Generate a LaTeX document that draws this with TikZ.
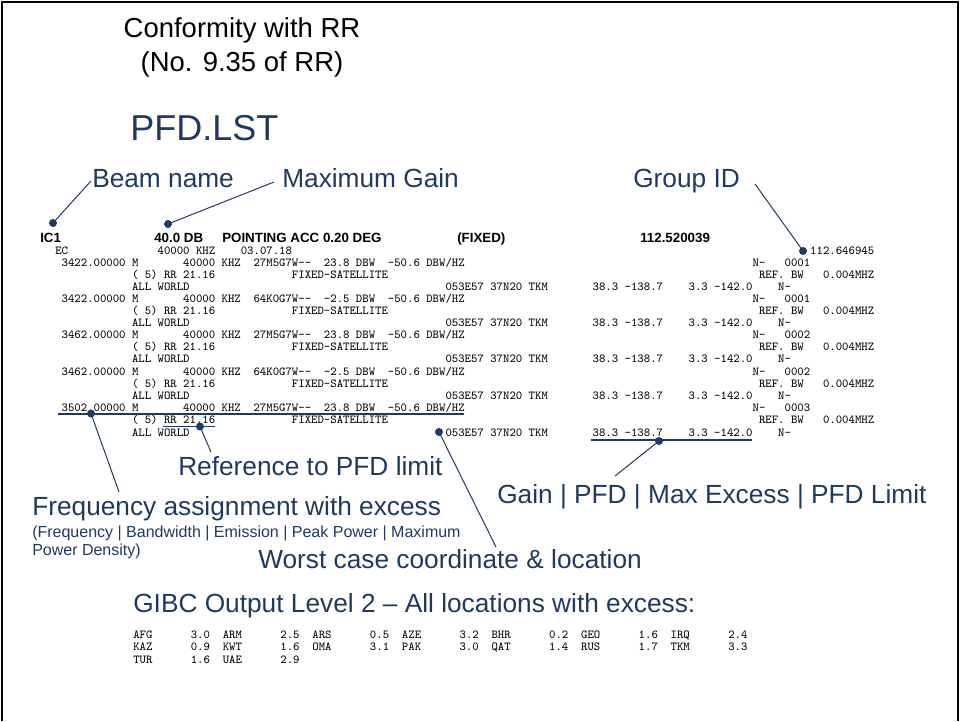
\documentclass[tikz,border=0pt]{standalone}
\usepackage{fontspec}
\setmainfont{Liberation Sans}
\usepackage{tikz}
\definecolor{slidenavy}{HTML}{1F3A5F}
\newcommand{\gap}[1]{\hspace*{#1\dimexpr0.525em\relax}}

\begin{document}
\begin{tikzpicture}[x=0.75pt, y=-0.75pt,
    titletext/.style={font=\fontsize{20.6}{24}\selectfont, anchor=base, inner sep=0},
    heading/.style={font=\fontsize{27}{32}\selectfont, text=slidenavy, anchor=base west, inner sep=0},
    callout/.style={font=\fontsize{19.7}{24}\selectfont, text=slidenavy, anchor=base west, inner sep=0},
    note/.style={font=\fontsize{12}{14}\selectfont, text=slidenavy, anchor=base west, inner sep=0},
    hdr/.style={font=\fontsize{10}{12}\selectfont\bfseries, anchor=base west, inner sep=0},
    lst/.style={font=\fontsize{9.14}{10}\selectfont\ttfamily\frenchspacing, anchor=base west, inner sep=0},
    dot/.style={circle, fill=slidenavy, inner sep=0, minimum size=6pt},
    leader/.style={slidenavy, line width=0.75pt},
    uline/.style={slidenavy, line width=1.5pt}]

    \useasboundingbox (0,0) rectangle (960,721);

    % =========================================================================
    % FRAME AND TITLES
    % =========================================================================
    \draw[line width=1.5pt] (2,721) -- (2,2) -- (958,2) -- (958,721);
    \node[titletext] (conf) at (242,37) {Conformity with RR};
    \node[titletext] (confno) at (242,71) {(No. 9.35 of RR)};
    \node[heading] (pfdlst) at (130,140) {PFD.LST};

    % --- Callouts above the listing ---
    \node[callout] (beamlbl) at (92,187) {Beam name};
    \node[callout] (gainlbl) at (282,187) {Maximum Gain};
    \node[callout] (grouplbl) at (633,187) {Group ID};

    % =========================================================================
    % LISTING
    % =========================================================================
    \node[hdr] (ic) at (40,242) {IC1};
    \node[hdr] (maxgain) at (154,242) {40.0 DB};
    \node[hdr] (pointing) at (222,242) {POINTING ACC 0.20 DEG};
    \node[hdr] (fixed) at (457,242) {(FIXED)};
    \node[hdr] (orbit) at (640,242) {112.520039};

    \node[lst] (row0) at (55,254) {EC\gap{14}40000 KHZ\gap{4}03.07.18\gap{81}112.646945};

    \node[lst] (row1) at (55,266.1) {\gap{1}3422.00000 M\gap{7}40000 KHZ\gap{2}27M5G7W--\gap{2}23.8 DBW\gap{2}-50.6 DBW/HZ\gap{45}N-\gap{3}0001};
    \node[lst] (row2) at (55,278.2) {\gap{12}( 5) RR 21.16\gap{12}FIXED-SATELLITE\gap{58}REF. BW\gap{3}0.004MHZ};
    \node[lst] (row3) at (55,290.3) {\gap{12}ALL WORLD\gap{40}053E57 37N20 TKM\gap{7}38.3 -138.7\gap{4}3.3 -142.0\gap{4}N-};

    \node[lst] (row4) at (55,302.4) {\gap{1}3422.00000 M\gap{7}40000 KHZ\gap{2}64K0G7W--\gap{2}-2.5 DBW\gap{2}-50.6 DBW/HZ\gap{45}N-\gap{3}0001};
    \node[lst] (row5) at (55,314.5) {\gap{12}( 5) RR 21.16\gap{12}FIXED-SATELLITE\gap{58}REF. BW\gap{3}0.004MHZ};
    \node[lst] (row6) at (55,326.6) {\gap{12}ALL WORLD\gap{40}053E57 37N20 TKM\gap{7}38.3 -138.7\gap{4}3.3 -142.0\gap{4}N-};

    \node[lst] (row7) at (55,338.7) {\gap{1}3462.00000 M\gap{7}40000 KHZ\gap{2}27M5G7W--\gap{2}23.8 DBW\gap{2}-50.6 DBW/HZ\gap{45}N-\gap{3}0002};
    \node[lst] (row8) at (55,350.8) {\gap{12}( 5) RR 21.16\gap{12}FIXED-SATELLITE\gap{58}REF. BW\gap{3}0.004MHZ};
    \node[lst] (row9) at (55,362.9) {\gap{12}ALL WORLD\gap{40}053E57 37N20 TKM\gap{7}38.3 -138.7\gap{4}3.3 -142.0\gap{4}N-};

    \node[lst] (row10) at (55,375) {\gap{1}3462.00000 M\gap{7}40000 KHZ\gap{2}64K0G7W--\gap{2}-2.5 DBW\gap{2}-50.6 DBW/HZ\gap{45}N-\gap{3}0002};
    \node[lst] (row11) at (55,387.1) {\gap{12}( 5) RR 21.16\gap{12}FIXED-SATELLITE\gap{58}REF. BW\gap{3}0.004MHZ};
    \node[lst] (row12) at (55,399.2) {\gap{12}ALL WORLD\gap{40}053E57 37N20 TKM\gap{7}38.3 -138.7\gap{4}3.3 -142.0\gap{4}N-};

    \node[lst] (row13) at (55,411) {\gap{1}3502.00000 M\gap{7}40000 KHZ\gap{2}27M5G7W--\gap{2}23.8 DBW\gap{2}-50.6 DBW/HZ\gap{45}N-\gap{3}0003};
    \node[lst] (row14) at (55,423.4) {\gap{12}( 5) RR 21.16\gap{12}FIXED-SATELLITE\gap{58}REF. BW\gap{3}0.004MHZ};
    \node[lst] (row15) at (55,436) {\gap{12}ALL WORLD\gap{40}053E57 37N20 TKM\gap{7}38.3 -138.7\gap{4}3.3 -142.0\gap{4}N-};

    % --- Underlines ---
    \draw[uline] (58,413.5) -- (464,413.5);
    \draw[leader] (163,426) -- (215,426);
    \draw[uline] (591,440) -- (752,440);

    % =========================================================================
    % CALLOUTS BELOW THE LISTING
    % =========================================================================
    \node[callout] (reflbl) at (178,475) {Reference to PFD limit};
    \node[callout] (freqlbl) at (32,515) {Frequency assignment with excess};
    \node[note] (freqnote) at (32,537) {(Frequency | Bandwidth | Emission | Peak Power | Maximum};
    \node[note] (freqnote2) at (32,555) {Power Density)};
    \node[callout] (worstlbl) at (258,568) {Worst case coordinate \& location};
    \node[callout] (excesslbl) at (497,503) {Gain | PFD | Max Excess | PFD Limit};

    % --- Dots and leaders ---
    \node[dot] (beamdot) at (53,223) {};
    \node[dot] (gaindot) at (168,224) {};
    \node[dot] (groupdot) at (803,251) {};
    \node[dot] (freqdot) at (91,413.5) {};
    \node[dot] (refdot) at (200,426.5) {};
    \node[dot] (worstdot) at (439,432) {};
    \node[dot] (excessdot) at (659,441) {};

    \coordinate (beamend) at (91,181);
    \coordinate (gainend) at (274,182);
    \coordinate (groupend) at (755,184);
    \coordinate (freqend) at (119,492);
    \coordinate (refend) at (211,452);
    \coordinate (worstend) at (496,547);
    \coordinate (excessend) at (615,476);

    \draw[leader] (beamdot.center) -- (beamend);
    \draw[leader] (gaindot.center) -- (gainend);
    \draw[leader] (groupdot.center) -- (groupend);
    \draw[leader] (freqdot.center) -- (freqend);
    \draw[leader] (refdot.center) -- (refend);
    \draw[leader] (worstdot.center) -- (worstend);
    \draw[leader] (excessdot.center) -- (excessend);

    % =========================================================================
    % GIBC OUTPUT LEVEL 2
    % =========================================================================
    \node[callout] (gibclbl) at (133,612) {GIBC Output Level 2 -- All locations with excess:};
    \node[lst] (gibc1) at (133,638) {AFG\gap{6}3.0\gap{2}ARM\gap{6}2.5\gap{2}ARS\gap{6}0.5\gap{2}AZE\gap{6}3.2\gap{2}BHR\gap{6}0.2\gap{2}GEO\gap{6}1.6\gap{2}IRQ\gap{6}2.4};
    \node[lst] (gibc2) at (133,650.5) {KAZ\gap{6}0.9\gap{2}KWT\gap{6}1.6\gap{2}OMA\gap{6}3.1\gap{2}PAK\gap{6}3.0\gap{2}QAT\gap{6}1.4\gap{2}RUS\gap{6}1.7\gap{2}TKM\gap{6}3.3};
    \node[lst] (gibc3) at (133,663) {TUR\gap{6}1.6\gap{2}UAE\gap{6}2.9};

\end{tikzpicture}
\end{document}
